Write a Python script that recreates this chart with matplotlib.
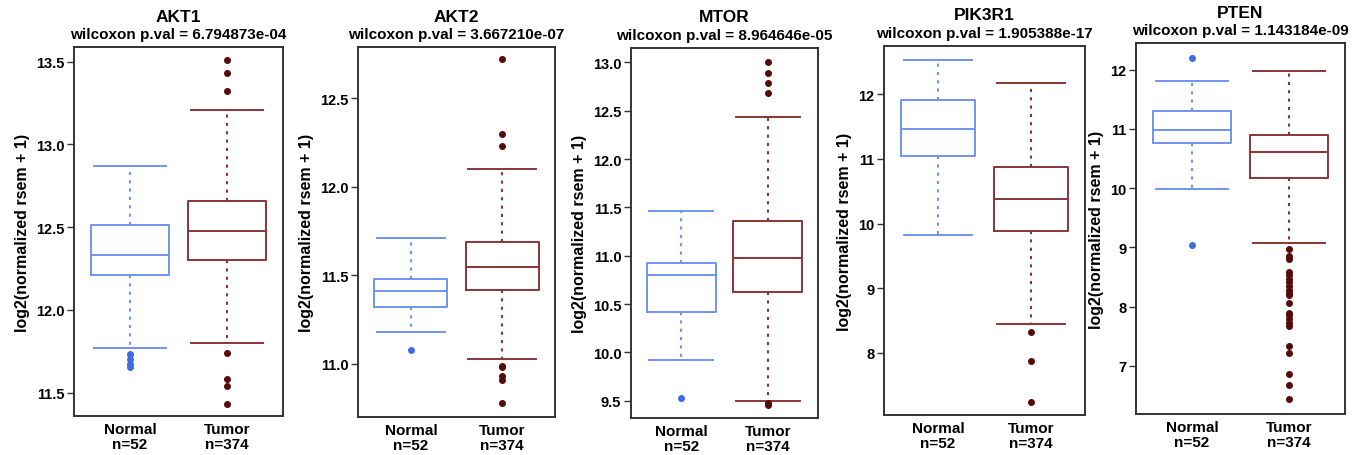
import matplotlib
matplotlib.use("Agg")
import matplotlib.pyplot as plt

plt.rcParams['font.family'] = ['Liberation Sans', 'DejaVu Sans']
plt.rcParams['font.weight'] = 'bold'

genes = ["AKT1", "AKT2", "MTOR", "PIK3R1", "PTEN"]
pvals = ["6.794873e-04", "3.667210e-07", "8.964646e-05", "1.905388e-17", "1.143184e-09"]
groups = ["Normal", "Tumor"]
group_n = [52, 374]

normal_whislo = [11.77, 11.18, 9.92, 9.83, 9.99]
normal_q1 = [12.21, 11.32, 10.42, 11.05, 10.76]
normal_med = [12.33, 11.41, 10.80, 11.46, 10.98]
normal_q3 = [12.515, 11.48, 10.92, 11.91, 11.30]
normal_whishi = [12.87, 11.71, 11.465, 12.53, 11.81]
normal_out = [[11.73, 11.70, 11.67, 11.655], [11.08], [9.53], [], [12.2, 9.05]]

tumor_whislo = [11.80, 11.03, 9.50, 8.45, 9.08]
tumor_q1 = [12.30, 11.42, 10.62, 9.89, 10.17]
tumor_med = [12.475, 11.55, 10.98, 10.375, 10.61]
tumor_q3 = [12.66, 11.69, 11.36, 10.87, 10.90]
tumor_whishi = [13.206, 12.10, 12.44, 12.17, 11.97]
tumor_out = [
    [13.51, 13.43, 13.32, 11.74, 11.58, 11.54, 11.43],
    [12.72, 12.30, 12.23, 10.99, 10.98, 10.93, 10.91, 10.78],
    [13.01, 12.89, 12.79, 12.68, 9.48, 9.46, 9.45],
    [8.32, 7.87, 7.24],
    [8.98, 8.85, 8.80, 8.585, 8.53, 8.46, 8.41, 8.35, 8.29, 8.24, 8.19, 8.07,
     7.90, 7.855, 7.79, 7.73, 7.67, 7.34, 7.225, 6.86, 6.68, 6.44],
]

ylims = [(11.358, 13.589), (10.70, 12.79), (9.32, 13.15), (7.04, 12.745), (6.19, 12.45)]
yticks = [
    [11.5, 12.0, 12.5, 13.0, 13.5],
    [11.0, 11.5, 12.0, 12.5],
    [9.5, 10.0, 10.5, 11.0, 11.5, 12.0, 12.5, 13.0],
    [8, 9, 10, 11, 12],
    [7, 8, 9, 10, 11, 12],
]
ytick_fmt = ["{:.1f}", "{:.1f}", "{:.1f}", "{:.0f}", "{:.0f}"]

# axes frames in pixel coords (left, right, top, bottom)
W, H = 1363, 456
frames = [(74, 283, 48, 417), (358, 555, 48, 418), (631, 818, 49, 419),
          (884, 1085, 47, 416), (1136, 1345, 44, 415)]

box_colors = ["#7094f2", "#8b3535"]
flier_colors = ["#3f6be3", "#560a0a"]

fig = plt.figure(figsize=(W / 100, H / 100), dpi=100)
fig.patch.set_facecolor("white")

for i, g in enumerate(genes):
    l, r, t, b = frames[i]
    ax = fig.add_axes([l / W, 1 - b / H, (r - l) / W, (b - t) / H])
    stats_n = dict(med=normal_med[i], q1=normal_q1[i], q3=normal_q3[i],
                   whislo=normal_whislo[i], whishi=normal_whishi[i], fliers=normal_out[i])
    stats_t = dict(med=tumor_med[i], q1=tumor_q1[i], q3=tumor_q3[i],
                   whislo=tumor_whislo[i], whishi=tumor_whishi[i], fliers=tumor_out[i])
    for j, st in enumerate([stats_n, stats_t]):
        c = box_colors[j]
        ax.bxp([st], positions=[j + 1], widths=0.8, capwidths=0.74,
               boxprops=dict(color=c, linewidth=1.4),
               medianprops=dict(color=c, linewidth=1.4),
               whiskerprops=dict(color=c, linewidth=1.5, linestyle=(0, (1.5, 2.5))),
               capprops=dict(color=c, linewidth=1.4),
               flierprops=dict(marker='o', markersize=4.0, markerfacecolor=flier_colors[j],
                               markeredgecolor=flier_colors[j], linestyle='none'))
    ax.set_xlim(0.42, 2.58)
    ax.set_ylim(*ylims[i])
    ax.set_xticks([1, 2])
    ax.set_xticklabels([f"{groups[k]}\nn={group_n[k]}" for k in range(2)],
                       fontsize=11, fontweight='bold', linespacing=1.15)
    ax.tick_params(axis='x', length=0, pad=4)
    ax.set_yticks(yticks[i])
    ax.set_yticklabels([ytick_fmt[i].format(v) for v in yticks[i]], fontsize=10.5, fontweight='bold')
    ax.tick_params(axis='y', length=5, width=1, pad=2, color="#333333")
    for s in ax.spines.values():
        s.set_color("#333333")
        s.set_linewidth(1.4)
    ax.set_ylabel("log2(normalized rsem + 1)", fontsize=11.5, fontweight='bold', labelpad=4)
    ax.text(0.5, 1 + 31 / (b - t), g, transform=ax.transAxes, ha='center', va='center',
            fontsize=12.5, fontweight='bold')
    ax.text(0.5, 1 + 13 / (b - t), f"wilcoxon p.val = {pvals[i]}", transform=ax.transAxes,
            ha='center', va='center', fontsize=11, fontweight='bold')

fig.savefig("out.png", dpi=100, facecolor="white")
